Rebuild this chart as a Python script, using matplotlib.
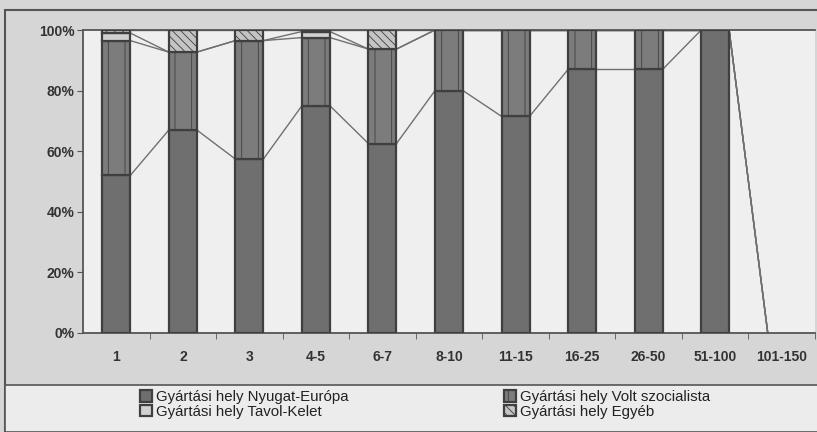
import numpy as np
import matplotlib
matplotlib.use('Agg')
import matplotlib.pyplot as plt
import matplotlib.patches as patches

plt.rcParams['font.family'] = ['Liberation Sans Narrow', 'Liberation Sans', 'DejaVu Sans']
plt.rcParams['hatch.linewidth'] = 0.6

# Data (share of production location, %)
categories = ['1', '2', '3', '4-5', '6-7', '8-10', '11-15', '16-25', '26-50', '51-100', '101-150']
nyugat = [52.0, 67.0, 57.4, 75.0, 62.5, 80.0, 71.5, 87.0, 87.0, 100.0, 0.0]
volt = [44.5, 25.7, 39.1, 22.5, 31.2, 20.0, 28.5, 13.0, 13.0, 0.0, 0.0]
tavol = [2.5, 0.0, 0.0, 2.0, 0.0, 0.0, 0.0, 0.0, 0.0, 0.0, 0.0]
egyeb = [1.0, 7.3, 3.5, 0.5, 6.3, 0.0, 0.0, 0.0, 0.0, 0.0, 0.0]
yticks = [0, 20, 40, 60, 80, 100]
ytick_labels = ['0%', '20%', '40%', '60%', '80%', '100%']
labels = ['Gyártási hely Nyugat-Európa', 'Gyártási hely Volt szocialista',
          'Gyártási hely Tavol-Kelet', 'Gyártási hely Egyéb']

fig = plt.figure(figsize=(8.17, 4.32), dpi=100)
fig.patch.set_facecolor('#d6d6d6')

# outer chart frame and legend box
fig.patches.append(patches.Rectangle((5 / 817, 0), 1, 1 - 10 / 432, transform=fig.transFigure,
                                     facecolor='none', edgecolor='#555555', lw=1.5, zorder=0))
fig.patches.append(patches.Rectangle((5 / 817, 0), 1, (432 - 385) / 432, transform=fig.transFigure,
                                     facecolor='#ececec', edgecolor='#555555', lw=1.2, zorder=0))

ax = fig.add_axes([83 / 817, (432 - 333) / 432, (815 - 83) / 817, (333 - 30) / 432])
ax.set_facecolor('#efefef')

x = np.arange(len(categories))
w = 0.42
series = [nyugat, volt, tavol, egyeb]
styles = [dict(facecolor='#6f6f6f', hatch=None),
          dict(facecolor='#7c7c7c', hatch='|'),
          dict(facecolor='#d0d0d0', hatch=None),
          dict(facecolor='#c4c4c4', hatch='\\\\\\\\')]

bottom = np.zeros(len(categories))
cums = []
handles = []
for vals, st in zip(series, styles):
    vals = np.array(vals)
    b = ax.bar(x, vals, w, bottom=bottom, facecolor=st['facecolor'], hatch=st['hatch'],
               edgecolor='#3f3f3f', linewidth=1.6, zorder=3)
    for rect, v in zip(b, vals):
        if v == 0:
            rect.set_visible(False)
    handles.append(b)
    bottom = bottom + vals
    cums.append(bottom.copy())

# series lines between adjacent stacks
for cum in cums:
    for i in range(len(categories) - 1):
        ax.plot([x[i] + w / 2, x[i + 1] - w / 2], [cum[i], cum[i + 1]],
                color='#707070', lw=1.0, zorder=2)

ax.set_xlim(-0.5, len(categories) - 0.5)
ax.set_ylim(0, 100)
ax.set_yticks(yticks)
ax.set_yticklabels(ytick_labels, fontsize=10, fontweight='bold', color='#333333')
ax.set_xticks(x)
ax.set_xticklabels(categories, fontsize=10, fontweight='bold', color='#333333')
ax.set_xticks(np.arange(len(categories)) + 0.5, minor=True)
ax.tick_params(axis='x', which='major', length=0, pad=12)
ax.tick_params(axis='x', which='minor', length=4, direction='out', color='#555555')
ax.tick_params(axis='y', length=4, direction='out', color='#555555', pad=2)
for s in ['left', 'bottom', 'top']:
    ax.spines[s].set_color('#555555')
    ax.spines[s].set_linewidth(1.3)
ax.spines['right'].set_visible(False)

order = [0, 2, 1, 3]
leg = fig.legend([handles[i] for i in order], [labels[i] for i in order], ncol=2,
                 loc='upper left', bbox_to_anchor=(140 / 817, 1 - 390 / 432),
                 frameon=False, fontsize=10.8, handlelength=0.8, handleheight=0.8,
                 handletextpad=0.3, columnspacing=10.3, labelspacing=0.05,
                 borderpad=0, borderaxespad=0)
for t in leg.get_texts():
    t.set_color('#222222')

fig.savefig('out.png', dpi=100, facecolor=fig.get_facecolor())
